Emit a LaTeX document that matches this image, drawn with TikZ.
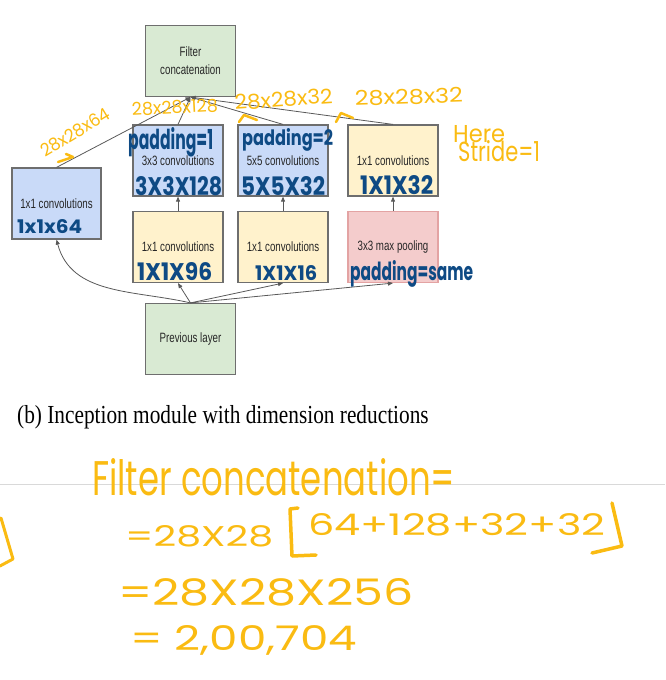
\documentclass[tikz,border=0pt]{standalone}
\usepackage{fontspec}
\usepackage{graphicx}
\usepackage{tikz}
\usetikzlibrary{arrows.meta}

\newfontfamily\boxfont[FakeStretch=0.72]{Liberation Sans}
\newfontfamily\capfont[FakeStretch=0.82]{Liberation Serif}
\newfontfamily\inkfont{Poppins}

\definecolor{concatgreen}{HTML}{D9EAD3}
\definecolor{convblue}{HTML}{C9DAF8}
\definecolor{reduceyellow}{HTML}{FFF2CC}
\definecolor{poolred}{HTML}{F4CCCC}
\definecolor{poolborder}{HTML}{E3A3A3}
\definecolor{boxborder}{HTML}{6E6E6E}
\definecolor{inkyellow}{HTML}{FABB12}
\definecolor{inkblue}{HTML}{0E4A84}

% handwritten notes are squeezed into the size they have on the scan
\newcommand{\inkfit}[3]{\resizebox{#1pt}{#2pt}{#3}}

\begin{document}
\begin{tikzpicture}[
    x=1pt, y=-1pt,
    box/.style={rectangle, draw=boxborder, line width=1.2pt, minimum width=90pt, minimum height=71pt, inner sep=0pt, align=center, text=black!85, font=\boxfont\fontsize{13.5}{18}\selectfont},
    concatbox/.style={box, fill=concatgreen},
    convbox/.style={box, fill=convblue},
    reducebox/.style={box, fill=reduceyellow},
    poolbox/.style={box, fill=poolred, draw=poolborder},
    arrow/.style={-{Triangle[length=5pt, width=4pt]}, draw=black!65, line width=0.8pt},
    yink/.style={text=inkyellow, inner sep=0pt, anchor=base west, font=\inkfont},
    bink/.style={text=inkblue, inner sep=0pt, anchor=base west, font=\inkfont\bfseries},
    inkline/.style={draw=inkyellow, line width=2.5pt, line cap=round, line join=round}
]
\useasboundingbox (0,0) rectangle (665,680);

% Nodes
\node[concatbox] (concat) at (190.5,61) {Filter\\concatenation};
\node[convbox, minimum width=89pt] (onebyone) at (56.5,203.5) {1x1 convolutions};
\node[convbox] (conv3) at (178,160.5) {3x3 convolutions};
\node[convbox] (conv5) at (283,160.5) {5x5 convolutions};
\node[reducebox] (poolproj) at (393,160.5) {1x1 convolutions};
\node[reducebox] (reduce3) at (178,247) {1x1 convolutions};
\node[reducebox] (reduce5) at (283,247) {1x1 convolutions};
\node[poolbox] (maxpool) at (393,247) {3x3 max pooling};
\node[concatbox] (prev) at (190.5,339) {Previous layer};

\node[anchor=base west, inner sep=0pt, font=\capfont\fontsize{26}{30}\selectfont] (caption) at (17,423) {(b) Inception module with dimension reductions};

% Edges
\draw[arrow] (onebyone.north) -- (concat.south);
\draw[arrow] (conv3.north) -- (concat.south);
\draw[arrow] (conv5.north) -- (concat.south);
\draw[arrow] (poolproj.north) -- (concat.south);
\draw[arrow] (reduce3) -- (conv3);
\draw[arrow] (reduce5) -- (conv5);
\draw[arrow] (maxpool) -- (poolproj);
\draw[arrow] (prev.north) to[out=167, in=-75] (onebyone.south);
\draw[arrow] (prev.north) -- (reduce3.south);
\draw[arrow] (prev.north) -- (reduce5.south);
\draw[arrow] (prev.north) -- (maxpool.south);

% Notes in blue
\node[bink] (pad1) at (128,149) {\inkfit{85}{22}{padding=1}};
\node[bink] (pad2) at (242,145) {\inkfit{91}{17}{padding=2}};
\node[bink] (k3) at (135,195) {\inkfit{87}{19}{3X3X128}};
\node[bink] (k5) at (241,195) {\inkfit{84}{19}{5X5X32}};
\node[bink] (kpool) at (360,194) {\inkfit{73}{19}{1X1X32}};
\node[bink] (k64) at (17,233) {\inkfit{65}{14}{1x1x64}};
\node[bink] (k96) at (137,280) {\inkfit{75}{18}{1X1X96}};
\node[bink] (k16) at (255,280) {\inkfit{62}{15}{1X1X16}};
\node[bink] (padsame) at (350,280) {\inkfit{123}{20}{padding=same}};

% Notes in yellow
\node[yink, rotate=31] (out64) at (45,158) {\inkfit{78}{13}{28x28x64}};
\node[yink, rotate=3] (out128) at (132,116) {\inkfit{86}{13}{28x28x128}};
\node[yink, rotate=4] (out32a) at (235,110) {\inkfit{98}{15}{28x28x32}};
\node[yink, rotate=2] (out32b) at (355,106) {\inkfit{108}{15}{28x28x32}};
\node[yink] (here) at (453,142) {\inkfit{52}{17}{Here}};
\node[yink] (stride) at (458,161) {\inkfit{82}{21}{Stride=1}};
\draw[inkline] (58,162) -- (73,157) -- (66,154);
\draw[inkline] (239,122) -- (244,115) -- (257,120);
\draw[inkline] (336,122) -- (341,113) -- (353,118);

% Working below the figure
\draw[draw=black!15, line width=1pt] (0,484) -- (665,484);
\draw[inkline, line width=3pt] (1,518) -- (13,559) -- (0,566);
\node[yink] (fcsum) at (92,495) {\inkfit{363}{37}{Filter concatenation=}};
\node[yink] (step1) at (125,546) {\inkfit{148}{21}{=28X28}};
\draw[inkline, line width=3.5pt] (298,508) -- (290,509) -- (292,556) -- (316,555);
\node[yink] (depths) at (308,535) {\inkfit{297}{22}{64+128+32+32}};
\draw[inkline, line width=3.5pt] (612,503) -- (622,546) -- (592,553);
\node[yink] (step2) at (118,605) {\inkfit{295}{27}{=28X28X256}};
\node[yink] (step3) at (130,650) {\inkfit{227}{25}{= 2,00,704}};

\end{tikzpicture}
\end{document}
